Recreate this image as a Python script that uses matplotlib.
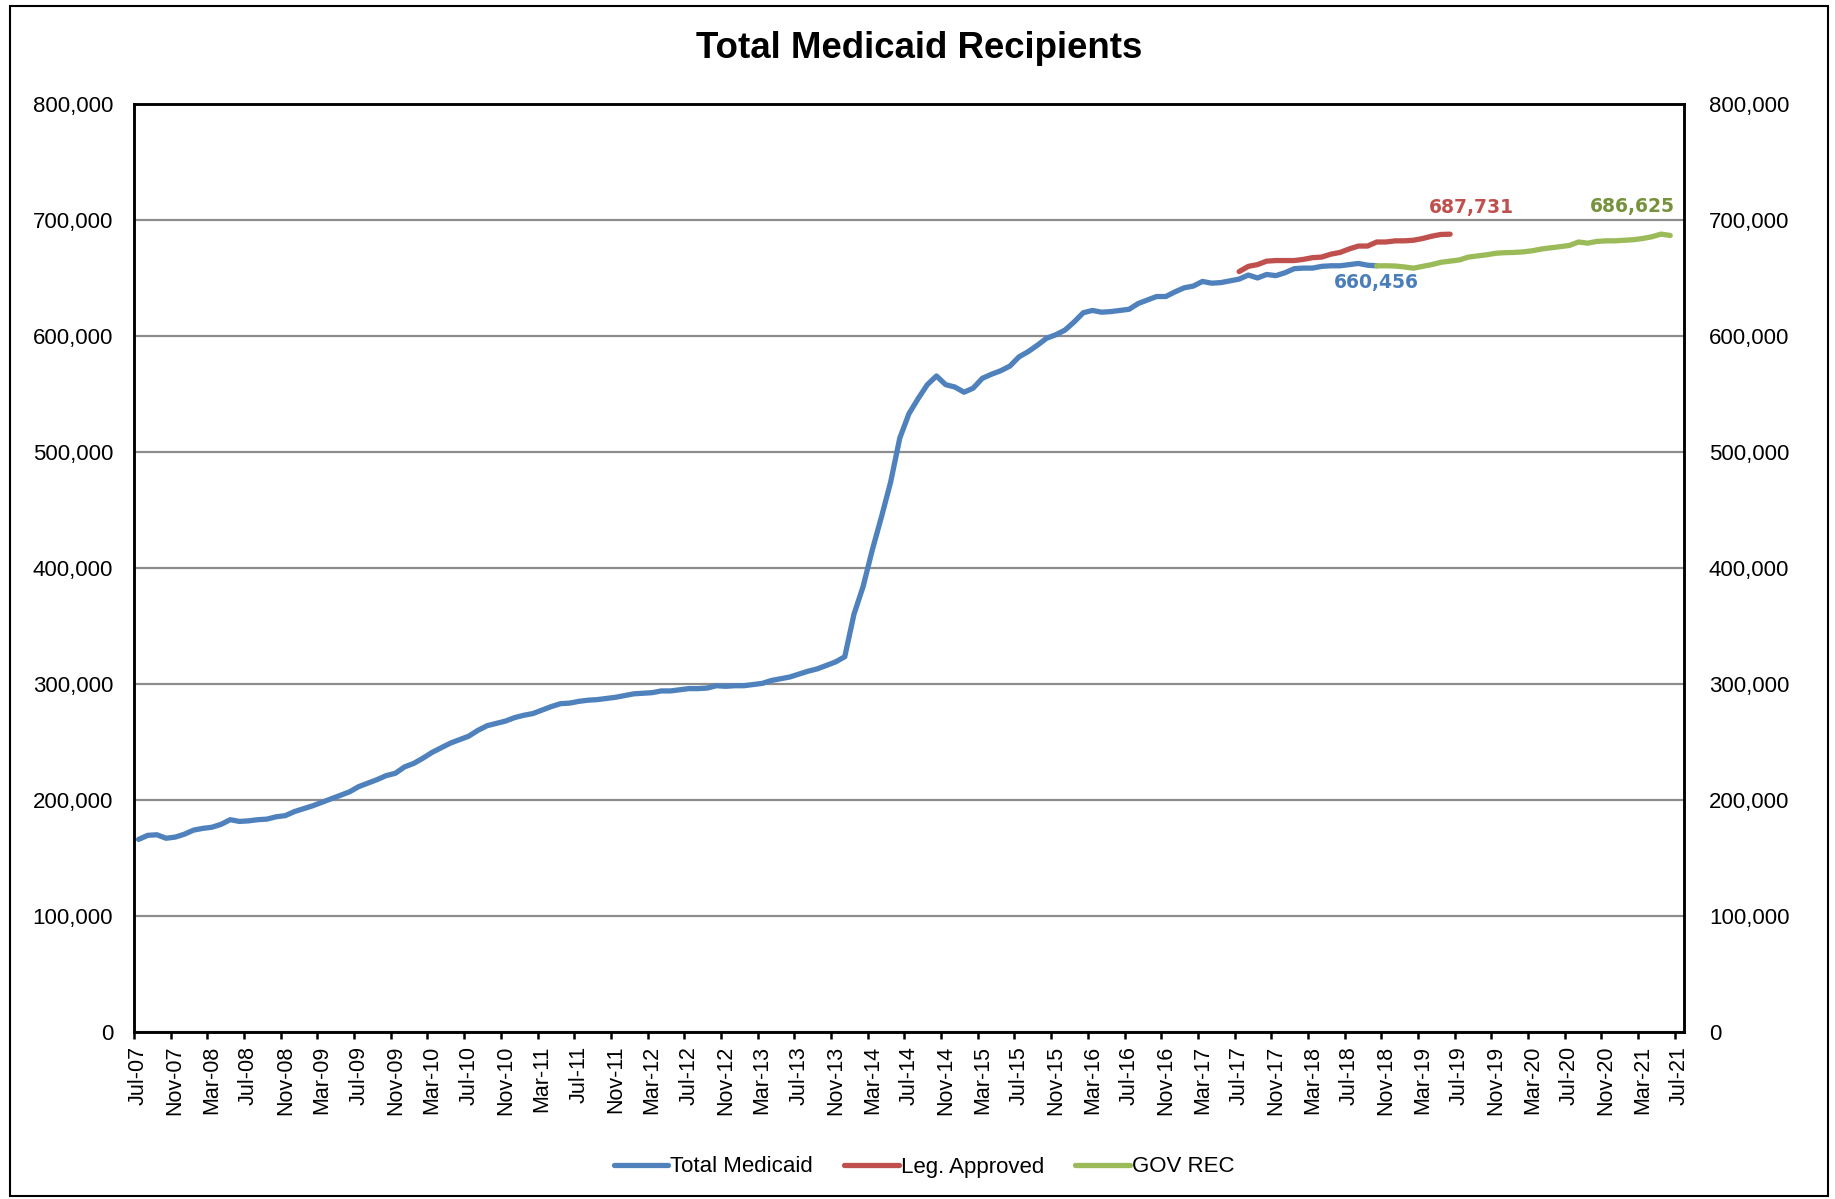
import matplotlib
matplotlib.use("Agg")
import matplotlib.pyplot as plt
from matplotlib.ticker import FuncFormatter, FixedLocator
from matplotlib.patches import Rectangle
import numpy as np

# monthly values, thousands of recipients, starting Jul-07
total_medicaid = [
    166, 169.5, 170, 167, 168, 170.5, 174, 175.5, 176.5, 179,
    183, 181.5, 182, 183, 183.5, 185.5, 186.5, 190, 192.5, 195,
    198, 201, 204, 207, 211.5, 214.5, 217.5, 221, 223, 228.5,
    231.5, 236, 241, 245, 249, 252, 255, 260, 264, 266,
    268, 271, 273, 274.5, 277.5, 280.5, 283, 283.5, 285, 286,
    286.5, 287.5, 288.5, 290, 291.5, 292, 292.5, 294, 294, 295,
    296, 296, 296.5, 298.5, 298, 298.5, 298.5, 299.5, 300.5, 303,
    304.5, 306, 308.5, 311, 313, 316, 319, 323.5, 360, 384,
    415.5, 444, 474, 512, 533, 546, 558, 565.5, 558, 556,
    551.5, 555, 563.5, 567, 570, 574, 582, 586.5, 592, 598,
    601, 605, 612, 620, 622, 620.5, 621, 622, 623, 628,
    631, 634, 634, 638, 641.5, 643, 647, 645.5, 646, 647.5,
    649, 652.5, 650, 653, 652, 654.5, 658, 658.5, 658.5, 660,
    660.5, 660.5, 661.5, 662.5, 661, 660.456,
]
leg_start = 120  # Jul-17
leg_approved = [
    655.5, 660, 661.5, 664.5, 665, 665, 665, 666, 667.5, 668,
    670.5, 672, 675, 677.5, 677.5, 681, 681, 682, 682, 682.5,
    684, 686, 687.5, 687.731,
]
gov_start = 135  # Oct-18
gov_rec = [
    660.456, 660.5, 660.3, 659.5, 658.4, 660, 661.5, 663.5, 664.5, 665.5,
    668, 669, 670, 671.3, 671.8, 672, 672.5, 673.5, 675, 676,
    677, 678, 681, 680, 681.5, 682, 682, 682.5, 683, 684,
    685.5, 687.8, 686.625,
]
n_months = 169  # Jul-07 .. Jul-21
month_names = ['Jan', 'Feb', 'Mar', 'Apr', 'May', 'Jun',
               'Jul', 'Aug', 'Sep', 'Oct', 'Nov', 'Dec']
categories = []
for i in range(n_months):
    mi = (6 + i) % 12
    yr = 7 + (6 + i) // 12
    categories.append('%s-%02d' % (month_names[mi], yr))

BLUE = '#4F81BD'
RED = '#C0504D'
GREEN = '#9BBB59'

fig = plt.figure(figsize=(18.35, 11.99), dpi=100)
ax = fig.add_axes([0.0730, 0.1393, 0.9177 - 0.0730, 0.9133 - 0.1393])

x_blue = np.arange(len(total_medicaid)) + 0.5
x_red = np.arange(len(leg_approved)) + leg_start + 0.5
x_green = np.arange(len(gov_rec)) + gov_start + 0.5
lw = 3.8
ax.plot(x_blue, np.array(total_medicaid) * 1000, color=BLUE, lw=lw,
        label='Total Medicaid', solid_capstyle='round', zorder=3)
ax.plot(x_red, np.array(leg_approved) * 1000, color=RED, lw=lw,
        label='Leg. Approved', solid_capstyle='round', zorder=3)
ax.plot(x_green, np.array(gov_rec) * 1000, color=GREEN, lw=lw,
        label='GOV REC', solid_capstyle='round', zorder=3)

ax.set_xlim(0, n_months)
ax.set_ylim(0, 800000)
ax.set_yticks(np.arange(0, 800001, 100000))
ax.yaxis.set_major_formatter(FuncFormatter(lambda v, p: '{:,.0f}'.format(v)))
ax.grid(axis='y', color='#8C8C8C', lw=1.6)
ax.set_axisbelow(True)

# ticks at category boundaries, labels centred on the categories
ax.xaxis.set_major_locator(FixedLocator(np.arange(0, n_months, 4)))
ax.xaxis.set_minor_locator(FixedLocator(np.arange(0, n_months, 4) + 0.5))
ax.set_xticklabels([], minor=False)
ax.set_xticklabels(categories[::4], minor=True, rotation=90,
                   fontsize=15.5, family='Liberation Sans')
ax.tick_params(axis='x', which='major', length=5, width=1.8, direction='out')
ax.tick_params(axis='x', which='minor', length=0, pad=10)
ax.tick_params(axis='y', length=0, pad=15, labelsize=16)
for lab in ax.get_yticklabels():
    lab.set_family('Liberation Sans')
for s in ax.spines.values():
    s.set_linewidth(1.8)
    s.set_color('black')

ax2 = ax.twinx()
ax2.set_ylim(ax.get_ylim())
ax2.set_yticks(np.arange(0, 800001, 100000))
ax2.yaxis.set_major_formatter(FuncFormatter(lambda v, p: '{:,.0f}'.format(v)))
ax2.tick_params(axis='y', length=0, pad=18, labelsize=16)
for lab in ax2.get_yticklabels():
    lab.set_family('Liberation Sans')
for s in ax2.spines.values():
    s.set_linewidth(1.8)

# end-point labels
ax.annotate('660,456', xy=(x_blue[-1], total_medicaid[-1] * 1000),
            xytext=(0, -12), textcoords='offset points', ha='center',
            va='center', color='#4A7EBB', fontsize=13.5, fontweight='bold')
ax.annotate('687,731', xy=(x_red[-1], leg_approved[-1] * 1000),
            xytext=(15, 19), textcoords='offset points', ha='center',
            va='center', color=RED, fontsize=13.5, fontweight='bold')
ax.annotate('686,625', xy=(x_green[-1], gov_rec[-1] * 1000),
            xytext=(-27, 21), textcoords='offset points', ha='center',
            va='center', color='#76923C', fontsize=13.5, fontweight='bold')

fig.text(0.501, 1 - 49 / 1199, 'Total Medicaid Recipients', ha='center',
         va='center', fontsize=26.4, fontweight='bold',
         family='Liberation Sans')

fig.legend(loc='center', bbox_to_anchor=(924 / 1835, 1 - 1167 / 1199),
           ncol=3, frameon=False, handlelength=2.45, handletextpad=0.1,
           columnspacing=1.4,
           prop={'family': 'Liberation Sans', 'size': 16})

fig.patches.append(Rectangle((10 / 1835, 3 / 1199), 1818 / 1835,
                             1190 / 1199, transform=fig.transFigure,
                             fill=False, ec='black', lw=1.5))

fig.savefig('out.png', dpi=100)
